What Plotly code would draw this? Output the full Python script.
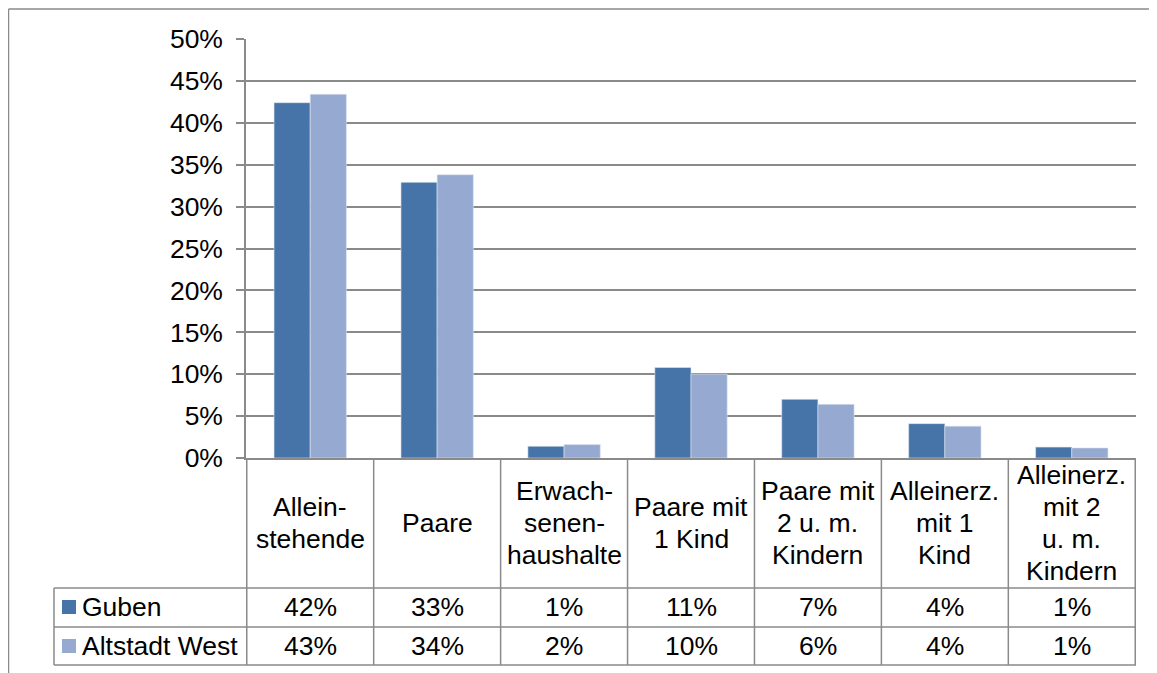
import plotly.graph_objects as go

# ---- data ----
categories = ["Allein-<br>stehende", "Paare", "Erwach-<br>senen-<br>haushalte",
              "Paare mit<br>1 Kind", "Paare mit<br>2 u. m.<br>Kindern",
              "Alleinerz.<br>mit 1<br>Kind", "Alleinerz.<br>mit 2<br>u. m.<br>Kindern"]
series_names = ["Guben", "Altstadt West"]
guben = [42.4, 32.9, 1.4, 10.8, 7.0, 4.1, 1.3]
altstadt_west = [43.4, 33.8, 1.6, 10.0, 6.4, 3.8, 1.2]
y_ticks = [0, 5, 10, 15, 20, 25, 30, 35, 40, 45, 50]
y_tick_labels = ["0%", "5%", "10%", "15%", "20%", "25%", "30%", "35%", "40%", "45%", "50%"]

# ---- styling / layout ----
OFF = 8  # page body margin
W, H = 1157 - OFF, 673 - OFF
ML, MT = 246 - OFF, 39 - OFF
MR = W - (1136 - OFF)
MB = H - (458 - OFF)
PW, PH = W - ML - MR, H - MT - MB
colors = ["#4673A8", "#95A9D1"]
grid = "#8A8A8A"
FONT = "Liberation Sans, Arial, sans-serif"
FS = 26.5
LINE = 32


def px(X):
    return (X - OFF - ML) / PW


def py(Y):
    return (H - MB - (Y - OFF)) / PH


fig = go.Figure()
all_series = [guben, altstadt_west]
for name, vals, col in zip(series_names, all_series, colors):
    fig.add_trace(go.Bar(x=categories, y=vals, name=name, marker_color=col,
                         marker_line_width=0.6, marker_line_color="#DDE4F0"))

shapes = []
annotations = []
n = len(categories)
line_style = dict(color=grid, width=1.5)

# outer chart border (top & left)
shapes.append(dict(type="line", xref="paper", yref="paper", x0=px(8.5), x1=px(1160),
                   y0=py(9), y1=py(9), line=line_style))
shapes.append(dict(type="line", xref="paper", yref="paper", x0=px(8.5), x1=px(8.5),
                   y0=py(9), y1=py(676), line=line_style))

# data table vertical lines
for i in range(n + 1):
    shapes.append(dict(type="line", xref="x", yref="paper", x0=i - 0.5, x1=i - 0.5,
                       y0=0, y1=py(665), line=line_style))
# legend column left edge
shapes.append(dict(type="line", xref="paper", yref="paper", x0=px(54), x1=px(54),
                   y0=py(588), y1=py(665), line=line_style))
# horizontal lines of rows
for Y in (588, 627, 665):
    shapes.append(dict(type="line", xref="paper", yref="paper", x0=px(54), x1=1,
                       y0=py(Y), y1=py(Y), line=line_style))

# category header labels (one annotation per line for Excel-like line spacing)
for c in categories:
    parts = c.split("<br>")
    k = len(parts)
    for j, part in enumerate(parts):
        Y = 523 + (j - (k - 1) / 2) * LINE
        annotations.append(dict(x=c, xref="x", y=py(Y), yref="paper", text=part,
                                showarrow=False, xanchor="center", yanchor="middle",
                                font=dict(family=FONT, size=FS, color="black")))

# table rows
row_centers = [607, 646]
for name, vals, col, Yc in zip(series_names, all_series, colors, row_centers):
    shapes.append(dict(type="rect", xref="paper", yref="paper", x0=px(62), x1=px(76),
                       y0=py(Yc - 7), y1=py(Yc + 7), fillcolor=col, line=dict(width=0)))
    annotations.append(dict(x=px(80), xref="paper", y=py(Yc), yref="paper", text=name,
                            showarrow=False, xanchor="left", yanchor="middle",
                            font=dict(family=FONT, size=FS, color="black")))
    for c, v in zip(categories, vals):
        annotations.append(dict(x=c, xref="x", y=py(Yc), yref="paper", text=f"{round(v)}%",
                                showarrow=False, xanchor="center", yanchor="middle",
                                font=dict(family=FONT, size=FS, color="black")))

fig.update_layout(
    width=W, height=H,
    margin=dict(l=ML, r=MR, t=MT, b=MB),
    paper_bgcolor="white", plot_bgcolor="white",
    barmode="group", bargap=0.43, bargroupgap=0,
    showlegend=False,
    shapes=shapes, annotations=annotations,
    font=dict(family=FONT, size=FS, color="black"),
    xaxis=dict(showticklabels=False, showgrid=False, zeroline=False,
               showline=True, linecolor=grid, linewidth=1.5, ticks=""),
    yaxis=dict(range=[0, 50], tickmode="array", tickvals=y_ticks, ticktext=y_tick_labels,
               showgrid=True, gridcolor=grid, gridwidth=1.5, zeroline=False,
               showline=True, linecolor=grid, linewidth=1.5,
               ticks="outside", ticklen=8, tickcolor=grid, tickwidth=1.5,
               ticklabelstandoff=8,
               tickfont=dict(family=FONT, size=FS, color="black")),
)

fig.write_html("out.html")
